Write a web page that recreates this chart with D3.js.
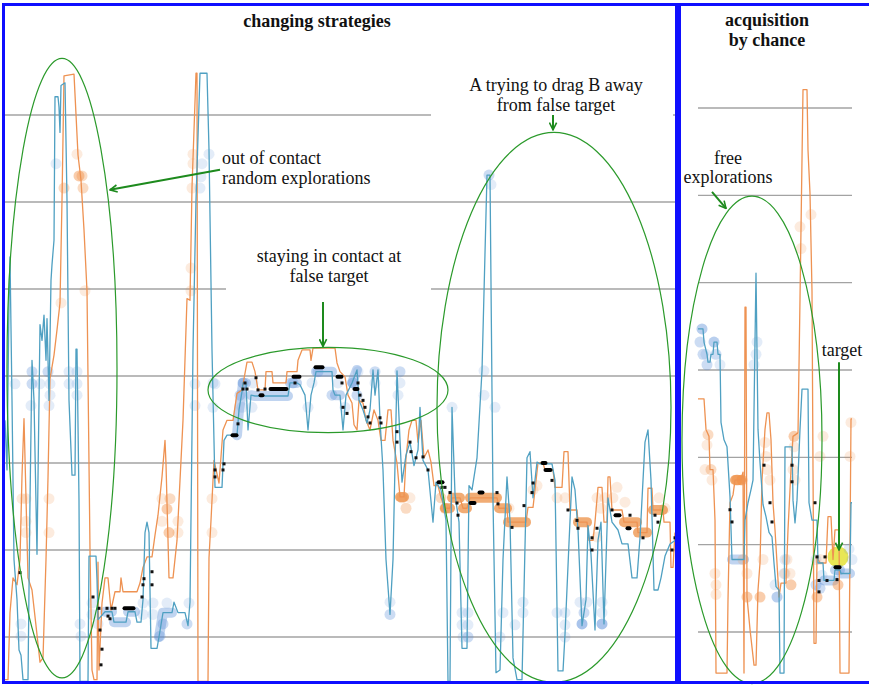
<!DOCTYPE html>
<html><head><meta charset="utf-8">
<script src="https://cdn.jsdelivr.net/npm/d3@7"></script>
<style>
body{margin:0;background:#fff;}
svg{display:block;}
</style></head><body>
<svg id="chart" width="869" height="685"></svg>
<script>
// Reference levels drawn as horizontal gridlines (both panels)
const gridValues = [10, 20, 30, 40, 50, 60, 70];

// ---------- Panel 1: changing strategies (time step, position) ----------
const leftBlue = [
[0,34.9],[1,29.2],[2,48.7],[2.5,53.7],[3.5,37.2],[4.5,18.9],[6,14.3],[7,8.5],[8,7.9],[9,5.1],[11.5,5.1],[12.5,25.7],[13.5,41.8],[14.5,37.2],[16,19.5],[17.5,45.9],[18.5,44.1],[19.5,47.0],[20.5,41.8],[21,46.6],[22,37.2],[23,51.0],[23.5,52.8],[24.5,55.6],[25,72.1],[26.5,72.1],[27,70.9],[27.5,68.0],[28,73.4],[30,73.7],[31,60.2],[32,37.2],[33.5,28.6],[35,28.6],[35.5,43.1],[36,43.1],[37,25.7],[37.5,4.9],[41.5,4.9],[42,19.3],[45.5,19.3],[46,16.6],[46.5,12.0],[50,12.9],[53.5,12.9],[54.5,11.7],[60.5,11.7],[61.5,12.9],[65,12.9],[66,11.7],[68,11.7],[69,14.3],[70,22.0],[71,23.2],[72,22.0],[73,8.7],[76,8.7],[77,10.0],[79,12.8],[83.5,12.8],[84.5,14.0],[86.5,12.8],[90,12.8],[91.5,11.3],[92.5,14.0],[94,43.0],[95.5,60.2],[97.5,74.8],[101,74.8],[102,66.0],[103.5,43.0],[105,27.2],[108.5,27.2],[109.5,32.6],[111,33.2],[116,33.2],[117,36.1],[118.5,38.2],[119,39.2],[120.5,39.2],[121.5,33.8],[123,37.8],[125,37.7],[141.5,37.7],[142.5,39.2],[146,39.2],[147.5,39.0],[150,37.8],[151.5,33.8],[153,37.8],[154.5,39.2],[155.5,40.5],[163.5,40.5],[164,38.4],[165,37.8],[167.5,37.8],[169,33.8],[170.5,37.8],[173.5,39.2],[176,40.7],[177,37.2],[179,36.1],[181,34.6],[182.5,36.1],[184,40.7],[185,37.8],[186.5,40.7],[187.5,34.9],[189,29.2],[190.5,18.9],[192.5,12.6],[194,18.9],[196,40.6],[197.5,32.6],[198.5,27.8],[200.5,30.9],[202.5,32.4],[204.5,29.7],[206.5,31.5],[207.5,36.4],[209,30.3],[211.5,29.2],[214,23.2],[215.5,27.8],[218,26.9],[220.5,23.4],[221.5,4.9],[222.5,4.9],[223.5,36.4],[225,26.4],[227,23.2],[228.5,8.7],[231,8.7],[232,27.4],[233.5,26.9],[236,30.6],[238.5,40.6],[241,63.1],[242.5,63.1],[244,25.7],[245.5,5.9],[247.5,6.2],[249,18.9],[251,28.4],[252.5,23.4],[254,7.6],[256,5.1],[258.5,5.1],[261,30.6],[262.5,31.3],[264,26.0],[266,30.1],[267.5,29.9],[273.5,29.9],[275,28.0],[276.5,6.1],[279,6.1],[280,10.3],[282,20.8],[283.5,28.4],[285,26.9],[286.5,22.3],[288.5,11.3],[290.5,14.3],[291.5,22.8],[293,19.5],[295,10.8],[296.5,21.1],[298,23.2],[299.5,11.5],[301.5,26.0],[303.5,23.2],[306.5,22.3],[308.5,20.7],[311.5,20.7],[313.5,16.8],[316,16.8],[317.5,21.4],[320,32.4],[321.5,33.8],[323,28.0],[324.5,15.4],[326.5,15.4],[328,16.8],[330,19.3],[332.5,20.7],[335,21.1]
];
const leftOrange = [
[0,5.1],[1.5,5.1],[2.5,12.8],[4,16.8],[6,16.0],[7.5,18.9],[8.5,28.5],[9.5,35.1],[10.5,26.0],[11.5,16.8],[13.5,15.4],[15.5,11.3],[17.5,7.1],[19,7.6],[20.5,18.9],[21.5,28.3],[22.5,39.7],[24.5,42.4],[26,45.3],[27.5,48.4],[28.5,60.2],[29.5,74.5],[34.5,74.7],[36.5,65.4],[38,62.5],[39.5,56.8],[41,49.8],[42.5,20.0],[43.5,6.2],[44.5,5.1],[46,5.1],[46.5,18.6],[47,6.2],[48.5,13.9],[50,16.8],[51.5,16.8],[53,13.1],[55,15.2],[57.5,15.2],[58,16.8],[59,15.2],[66,15.2],[67.5,16.2],[69,18.0],[71,19.2],[73.5,19.2],[75,21.7],[76.5,24.0],[78.5,28.4],[80,32.6],[80.5,29.9],[82,16.8],[84,16.8],[86,21.1],[87.5,28.0],[89,34.9],[91,48.9],[92.5,48.7],[93.5,61.7],[95.5,74.8],[96,74.8],[96.5,4.9],[101.5,4.9],[102,19.1],[103,23.4],[104.5,30.3],[107,27.7],[109,33.8],[111,34.9],[114,34.9],[116,38.0],[118.5,38.4],[121,41.6],[123.5,41.6],[125,40.5],[126.5,38.4],[130,38.4],[130.5,40.5],[133.5,40.5],[134,39.2],[140.5,39.2],[141,40.5],[146,40.5],[146.5,41.8],[148.5,43.0],[152.5,43.0],[153,41.8],[154,43.2],[165,43.2],[166,41.5],[167.5,40.5],[170,39.9],[171.5,37.8],[173.5,36.9],[174.5,34.4],[176,33.8],[177,37.2],[179,36.9],[180.5,34.9],[182.5,33.8],[184.5,36.1],[186.5,34.9],[188,32.6],[190,32.6],[191.5,36.1],[193,36.1],[194,32.6],[196,30.0],[197.5,26.1],[199.5,26.1],[200.5,30.6],[202,33.8],[203.5,34.9],[205.5,34.9],[206.5,32.4],[208,34.9],[209.5,30.6],[211.5,31.5],[213,30.1],[214.5,27.4],[216.5,27.4],[218,26.0],[220,24.8],[222.5,24.8],[223.5,26.0],[227.5,26.0],[229,24.8],[231,24.8],[232.5,26.0],[246,26.0],[247,24.8],[251,24.8],[251.5,23.2],[260.5,23.2],[261.5,24.9],[264,24.9],[265,26.9],[266.5,30.0],[269,30.0],[270,29.2],[274,29.2],[275,27.2],[278.5,27.2],[279.5,31.3],[281.5,31.3],[282.5,24.6],[286,24.6],[286.5,23.2],[291,23.2],[292,21.1],[294,21.1],[295,23.2],[296.5,27.2],[298.5,27.2],[299.5,23.2],[301,23.2],[301.5,28.4],[302.5,28.4],[303.5,24.6],[308.5,24.6],[309.5,23.2],[316,23.2],[316.5,22.0],[321,22.0],[321.5,27.1],[323.5,27.1],[324,24.6],[329,24.6],[329.5,23.2],[332.5,23.2],[333,18.0],[334,18.0],[335,22.0]
];
// time spans where a robot sits in contact (drawn as a broad glow along its trace)
const leftBlueContact = [[49,54],[54.5,60.5],[61.5,65],[77,83.5],[116,120.5],[123,141.5],[142.5,146],[155.5,163.5],[165,167.5],[173.5,176]];
const leftOrangeContact = [[197.5,199.5],[220,222.5],[223.5,227.5],[229,231],[232.5,246],[247,251],[251.5,260.5],[286.5,291],[309.5,316],[316.5,321],[324,329]];
// sensor hits: [time, position, count]
const leftOrangeHits = [
[36,65.5],[37,63.0,3],[38.5,63.0,2],[29.5,61.6,2],[39,61.6,2],[28,48.4],[40,49.8],
[8.5,25.9],[10.5,25.9],[10.5,23.3],[10.5,22.0],[22,25.9],[22,22.0],
[78.5,25.9],[81,24.7,3],[78.5,23.3],[82.5,25.9,2],[82,22.0,3],[86.5,23.3],[86.5,22.0],
[103.5,25.9],[103.5,22.0],[94,65.5],[94,64.4],[93.5,61.6],[93,52.4],[93,49.8],
[198.5,26.0,2],[202.5,26.0],[200.5,24.8,2],[264,26.9],[266,27.4],[296,26.0],[298,24.8],[300,26.0],[304,26.0],[306,27.2],[296,21.5],[310,25.5],
[218,26.0,2],[220,24.8,2],[252,24.8],[276,26.0],[280,26.0],[327,26.0],[330,24.8]
];
const leftBlueHits = [
[25.5,64.4],[98.5,64.4],[102,65.5],[98,62.9],[97.5,61.6],
[13.5,40.5,2],[21.5,40.5,2],[32,40.5],[36,40.5],[5,39.1],[13.5,39.1,2],[17.5,39.1],[22.5,39.1],[32,39.1],[36,39.1],[22.5,37.8],[36,37.8],[13,36.6],[22,36.6],
[95,39.1],[105,39.1],[95,36.6],
[8,11.5],[8,10.1],[37.5,11.5],[38,10.1],[43.5,13.9],[43.5,12.6],[46.5,11.5],[69,13.9],[74,13.9],[69,12.6],[74,12.6],[79,11.5,2],[77.5,10.1,2],[81,13.9],[92,13.9],[91,11.5,2],
[104,39.2],[104,36.4],[119,39.2,3],[117.5,37.8,2],[118.5,36.4],[123.5,36.4],[124,39.2],[144,39.2,2],[151.5,36.4],[153.5,39.2],[156.5,40.5,2],[163.5,37.8,2],[166.5,39.2],[170,36.4],[174,39.2,3],[176,37.8,2],[176.5,40.5],[185,40.5,2],[185,39.2],[197.5,40.5,2],[197.5,39.2],[196.5,37.8],
[223.5,36.4],[239.5,40.6],[239.5,37.8],[192.5,12.6,2],[192.5,14.0],[242,63.1,2],[243,62.0],[245,36.4],
[228.5,12.8],[231.5,12.8],[228.5,11.4],[231.5,11.4],[229,10.0],[231.5,10.0,2],[249,12.8],[255,11.4],[259,14.0],[259,12.8],[247.5,10.0],
[276,12.8],[280,12.8],[280,11.4],[280,10.0],[287.5,14.0],[291,14.0],[289.5,12.8,2],[288.5,11.5,4],[298.5,14.0],[298.5,12.8],[298.5,11.5,4]
];
// contacts between the two robots: single events and sustained spans
const leftContacts = [
[7.5,17.4],[44,14.6],[47,13.3],[47.5,10.8],[48.5,8.6],[48,6.8],[51,13.3],[51.5,12.4],[52.5,12.1],[53.5,13.3],[55,13.3],
[68.5,14.6],[69,16.0],[69.5,16.7],[73.5,17.5],[73.5,16.0],[105,29.2],[105,28.4],[109,29.2],[109.5,29.9],
[116.5,34.5],[119,38.5],[121,38.5],[120,39.2],[125.5,39.8],[126.5,38.4],[130,38.5],[145,39.2],[168.5,39.2],[169,36.4],[171,35.7],
[176.5,39.2],[177.5,37.8],[179,37.2],[180,36.4],[181.5,35.3],[182.5,34.6],[187.5,35.2],[188,34.6],[196,33.6],[196,32.4],[202.5,32.4],[203,31.3],[205.5,30.6],[209,30.7],[211.5,29.2],
[218.5,27.2],[220,27.2],[222.5,26.6],[226,25.4],[226.5,24.0],[246,26.6],[246.5,25.3],[253.5,22.6],[259.5,25.1],[263.5,26.6],[264,27.7],[273.5,28.0],
[281.5,24.6],[286,23.4],[286.5,22.5],[293.5,21.4],[293.5,20.0],[296,22.5],[303.5,24.6],[312.5,24.0],[319,21.4],[325,24.0],[326.5,23.2],[333.5,20.0],[335,21.4]
];
const leftContactSpans = [
[59.5,64.5,13.3],[113.5,116,33.2],[127.5,129,37.8],[132.5,141,38.5],[144,147.5,39.9],[155,159,41.0],[166,168.5,39.9],[174.5,176.5,38.5],
[216.5,219,27.8],[232.5,235,25.4],[237,239,26.6],[268.5,270.5,30.0],[270,273,29.2],[305,307.5,24.0],[311,312.5,22.5]
];

// ---------- Panel 2: acquisition by chance ----------
const rightOrange = [
[0,36.7],[3,36.7],[4,33.2],[5.5,32.4],[6,28.6],[7.5,28.6],[8.5,22.8],[9,5.3],[14.5,5.3],[15,13.7],[16,24.8],[17.5,25.7],[18.5,27.4],[21.5,27.4],[22.5,28.3],[23,5.3],[23.5,47.2],[24,47.2],[24.5,14.0],[26,10.3],[28,6.2],[29,6.2],[30,14.8],[31,17.9],[32,27.4],[33.5,33.2],[34.5,35.1],[35.5,35.1],[36.5,32.0],[37.5,24.8],[38.5,21.7],[39.5,17.9],[40.5,14.0],[41.5,15.6],[44,15.6],[45,21.7],[46.5,28.6],[47.5,32.4],[50,32.8],[51,48.1],[52.5,72.1],[54.5,72.1],[55,65.2],[56,60.2],[57,49.0],[58,8.7],[59,8.7],[59.5,18.6],[61,17.9],[64,17.9],[65,23.2],[66.5,23.2],[67.5,18.3],[68.5,21.7],[70.5,21.7],[71,5.3],[75.5,5.3],[76.5,34.4],[77,34.4]
];
const rightBlue = [
[0,44.7],[2.5,44.7],[3,43.2],[4.5,41.8],[5,40.9],[6,40.9],[6.5,41.8],[7.5,41.8],[8,43.2],[9.5,43.2],[10,41.8],[11,41.8],[11.5,34.0],[13,32.0],[14.5,31.2],[16,25.5],[17,18.3],[23,18.3],[23.5,22.8],[25,24.8],[26.5,26.3],[27.5,27.4],[29,51.1],[30,33.2],[31,29.4],[32.5,24.6],[34,23.2],[35.5,21.4],[37,20.9],[38,17.9],[39,15.2],[40.5,14.8],[41,5.3],[43,5.3],[43.5,31.2],[47,31.2],[47.5,25.1],[48.5,22.5],[49.5,25.1],[51,33.2],[52,37.8],[55,37.8],[55.5,24.8],[57,22.8],[59.5,22.8],[60,17.9],[62.5,17.9],[63,15.9],[68,15.9],[68.5,17.1],[71,17.1],[71.5,16.7],[76,16.7],[76.5,24.8],[77,24.8]
];
const rightBlueContact = [[17,23],[63,68],[68.5,71],[71.5,76]];
const rightOrangeContact = [[18.5,21.5]];
const rightOrangeHits = [
[51,56.4],[51.5,53.9],[56.5,57.8],[5,32.6,2],[4.5,31.4],[3.5,28.6],[6.5,28.6,2],[7,27.4],[19.5,27.4,3],[22,27.4,3],
[8.5,16.7],[9,15.4],[9,14.3],[24.5,14.0,3],[31,14.0,3],[24.5,16.7],[22.5,18.3],[32.5,18.3],[33.5,31.7],[34,30.1],[34.5,28.6],[36,27.4],
[44.5,18.3],[43.5,16.7],[46,16.7],[46.5,15.4,3],[48,32.4,3],[48,31.2],[47.5,28.6],[48.5,27.4],[62.5,32.4],[61,30.1],[61,18.3],[59.5,14.0,3],[70,15.4,3],[76.5,34.0],[76,30.1]
];
const rightBlueHits = [
[2,44.7,3],[1,43.2,2],[2.5,41.8,2],[8,43.2,3],[9,41.8,2],[4,41.8],[4.5,40.6,2],[11,40.6],[29.5,43.2],[29,41.8],[28,40.6],
[38.5,15.4],[39.5,14.0,3],[43.5,18.3],[43,16.7],[59,18.3],[59,15.4,2],[75.5,19.5],[77,18.3],[62,16.5],[61,15.0,2]
];
const rightContacts = [
[16,24.0],[17,22.6],[33,29.1],[36,24.8],[37,22.6],[47,29.1],[47,27.2],[58.5,24.8],[59.5,18.6],[60.5,15.9],[60.5,14.6],[64.5,15.9],[63.5,18.6],[69.5,16.0]
];
const rightContactSpans = [[68.5,71,17.4]];
const targetPoint = [70, 18.6];

// ---------- scales ----------
const xL = d3.scaleLinear().domain([0, 335]).range([5, 675]);
const yL = d3.scaleLinear().domain([10, 70]).range([637, 115]);
const xR = d3.scaleLinear().domain([0, 77]).range([698, 852]);
const yR = d3.scaleLinear().domain([10, 70]).range([632, 108]);

const SERIF = "'Liberation Serif', 'Times New Roman', 'DejaVu Serif', serif";
const svg = d3.select("#chart");
const C = {
  orange: "#ee9252", blue: "#4fa0c2",
  orangeHit: "#f08a3c", blueHit: "#5b8fd8",
  orangeGlow: "#e9791f", blueGlow: "#5a8fd8",
  grid: "#a3a3a3", frame: "#0f0fff", note: "#2b9a2b", arrow: "#1d8a1d"
};

function drawPanel(g, x, y, opt) {
  // gridlines
  g.append("g").selectAll("line").data(gridValues).join("line")
    .attr("x1", opt.gx0).attr("x2", opt.gx1)
    .attr("y1", d => y(d)).attr("y2", d => y(d))
    .attr("stroke", C.grid).attr("stroke-width", 1.3);

  // white label backgrounds covering the grid
  (opt.boxes || []).forEach(b => g.append("rect")
    .attr("x", b[0]).attr("y", b[1]).attr("width", b[2]).attr("height", b[3]).attr("fill", "#fff"));

  const line = d3.line().x(d => x(d[0])).y(d => y(d[1]));
  const span = (series, s) => series.filter(d => d[0] >= s[0] && d[0] <= s[1]);

  // contact glows
  const glow = (series, spans, color, op) => g.append("g").selectAll("path").data(spans).join("path")
    .attr("d", s => line(span(series, s))).attr("fill", "none")
    .attr("stroke", color).attr("stroke-opacity", op).attr("stroke-width", 10)
    .attr("stroke-linecap", "round").attr("stroke-linejoin", "round");
  glow(opt.blue, opt.blueContact, C.blueGlow, 0.38);
  glow(opt.orange, opt.orangeContact, C.orangeGlow, 0.62);

  // sensor hits
  const hits = (data, color) => g.append("g").selectAll("circle").data(data).join("circle")
    .attr("cx", d => x(d[0])).attr("cy", d => y(d[1])).attr("r", 5.5)
    .attr("fill", color).attr("fill-opacity", d => 1 - Math.pow(0.83, d[2] || 1));
  hits(opt.blueHits, C.blueHit);
  hits(opt.orangeHits, C.orangeHit);

  // trajectories
  g.append("path").attr("d", line(opt.orange)).attr("fill", "none")
    .attr("stroke", C.orange).attr("stroke-width", 1.3).attr("stroke-linejoin", "round");
  g.append("path").attr("d", line(opt.blue)).attr("fill", "none")
    .attr("stroke", C.blue).attr("stroke-width", 1.3).attr("stroke-linejoin", "round");

  // contacts
  g.append("g").selectAll("rect").data(opt.contacts).join("rect")
    .attr("x", d => x(d[0]) - 1.5).attr("y", d => y(d[1]) - 1.5)
    .attr("width", 3).attr("height", 3).attr("fill", "#111");
  g.append("g").selectAll("rect").data(opt.spans).join("rect")
    .attr("x", d => x(d[0]) - 1.5).attr("y", d => y(d[2]) - 2)
    .attr("width", d => x(d[1]) - x(d[0]) + 3).attr("height", 4).attr("rx", 2)
    .attr("fill", "#000");
}

const gL = svg.append("g");
drawPanel(gL, xL, yL, {
  gx0: 5, gx1: 675,
  boxes: [[226, 243, 205, 56], [431, 68, 242, 52]],
  blue: leftBlue, orange: leftOrange,
  blueContact: leftBlueContact, orangeContact: leftOrangeContact,
  blueHits: leftBlueHits, orangeHits: leftOrangeHits,
  contacts: leftContacts, spans: leftContactSpans
});
const gR = svg.append("g");
// target zone
gR.append("circle").attr("cx", xR(targetPoint[0])).attr("cy", yR(targetPoint[1])).attr("r", 10.5)
  .attr("fill", "#e2e02a").attr("fill-opacity", 0.8);
drawPanel(gR, xR, yR, {
  gx0: 698, gx1: 852,
  blue: rightBlue, orange: rightOrange,
  blueContact: rightBlueContact, orangeContact: rightOrangeContact,
  blueHits: rightBlueHits, orangeHits: rightOrangeHits,
  contacts: rightContacts, spans: rightContactSpans
});

// ---------- annotations ----------
const notes = svg.append("g");
const ellipse = (x, y, cx, cy, rx, ry) => notes.append("ellipse")
  .attr("cx", x(cx)).attr("cy", y(cy)).attr("rx", x(rx) - x(0)).attr("ry", y(0) - y(ry))
  .attr("fill", "none").attr("stroke", C.note).attr("stroke-width", 1.2);
ellipse(xL, yL, 28.5, 40.9, 27.5, 35.6);
ellipse(xL, yL, 161.5, 38.4, 60, 4.9);
ellipse(xL, yL, 274.5, 36.4, 58.5, 31.6);
ellipse(xR, yR, 27, 32.0, 35, 27.9);

svg.append("defs").append("marker").attr("id", "head")
  .attr("viewBox", "0 0 10 10").attr("refX", 9).attr("refY", 5)
  .attr("markerWidth", 9).attr("markerHeight", 9).attr("markerUnits", "userSpaceOnUse")
  .attr("orient", "auto")
  .append("path").attr("d", "M1,1 L9,5 L1,9").attr("fill", "none")
  .attr("stroke", C.arrow).attr("stroke-width", 1.8);
const arrow = (x, y, a, b) => notes.append("line")
  .attr("x1", x(a[0])).attr("y1", y(a[1])).attr("x2", x(b[0])).attr("y2", y(b[1]))
  .attr("stroke", C.arrow).attr("stroke-width", 2).attr("marker-end", "url(#head)");
arrow(xL, yL, [107.5, 63.7], [52.5, 61.4]);
arrow(xL, yL, [159, 48.5], [159, 43.4]);
arrow(xL, yL, [274, 70.0], [274, 68.3]);
arrow(xR, yR, [7, 60.4], [14, 58.5]);
arrow(xR, yR, [70.5, 40.9], [70.5, 19.4]);

const label = (lines, x, y, anchor, opts = {}) => {
  const t = notes.append("text").attr("x", x).attr("y", y)
    .attr("font-family", SERIF).attr("fill", "#111")
    .attr("text-anchor", anchor).attr("font-size", opts.size || 18)
    .attr("font-weight", opts.bold ? "bold" : "normal");
  lines.forEach((s, i) => t.append("tspan").attr("x", x).attr("dy", i ? (opts.lh || 20) : 0).text(s));
};
label(["changing strategies"], 317, 27, "middle", {bold: true});
label(["acquisition", "by chance"], 767, 26, "middle", {bold: true});
label(["out of contact", "random explorations"], 222, 164, "start");
label(["staying in contact at", "false target"], 329, 262, "middle");
label(["A trying to drag B away", "from false target"], 556, 91, "middle");
label(["free", "explorations"], 728, 164, "middle", {lh: 19});
label(["target"], 842, 356, "middle");

// panel frames
svg.append("rect").attr("x", 3.5).attr("y", 4.5).attr("width", 673).attr("height", 678)
  .attr("fill", "none").attr("stroke", C.frame).attr("stroke-width", 3);
svg.append("rect").attr("x", 679.5).attr("y", 4.5).attr("width", 200).attr("height", 678)
  .attr("fill", "none").attr("stroke", C.frame).attr("stroke-width", 3);
</script>
</body></html>
